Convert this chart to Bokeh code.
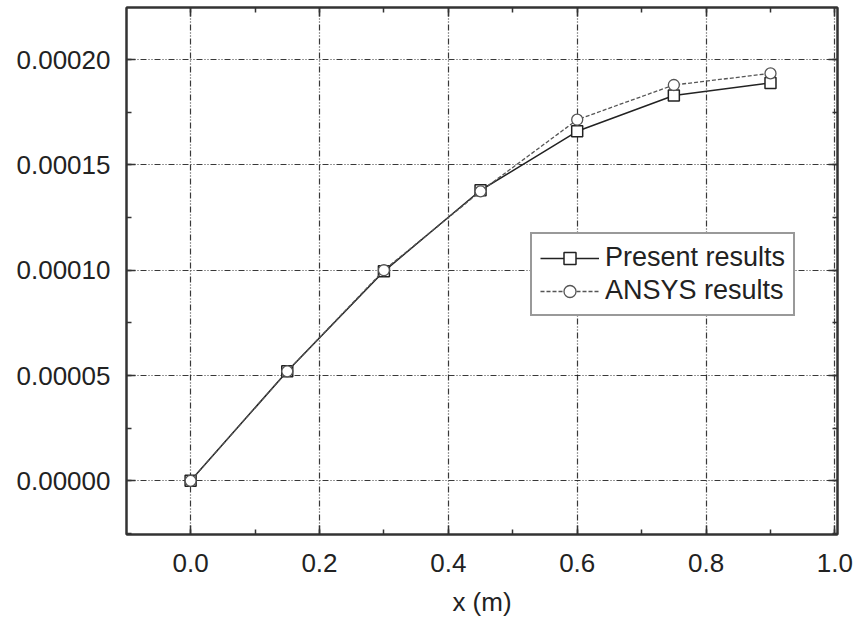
from bokeh.plotting import figure
from bokeh.models import (SingleIntervalTicker, NumeralTickFormatter, LinearAxis,
                          Legend, LegendItem, Range1d, CustomLabelingPolicy)
from bokeh.embed import file_html
from bokeh.resources import INLINE

x_vals = [0.0, 0.15, 0.30, 0.45, 0.60, 0.75, 0.90]
present = [0.0, 0.0000520, 0.0000995, 0.0001380, 0.0001660, 0.0001830, 0.0001890]
ansys = [0.0, 0.0000520, 0.0001000, 0.0001375, 0.0001715, 0.0001880, 0.0001935]

FONT = "Liberation Sans"
TXT = "#222222"

p = figure(width=858, height=621, output_backend="svg", toolbar_location=None,
           x_range=Range1d(-0.0995, 1.004), y_range=Range1d(-0.0000255, 0.0002248),
           min_border_left=126, min_border_right=21, min_border_top=7,
           min_border_bottom=87, background_fill_color="white",
           border_fill_color="white")

p.outline_line_color = "#333333"
p.outline_line_width = 2
p.outline_line_alpha = 1

xt = SingleIntervalTicker(interval=0.2, num_minor_ticks=2)
yt = SingleIntervalTicker(interval=0.00005, num_minor_ticks=2)

p.xaxis.ticker = xt
p.yaxis.ticker = yt
p.xaxis.formatter = NumeralTickFormatter(format="0.0")
p.yaxis.formatter = NumeralTickFormatter(format="0.00000")
p.xaxis.axis_label = "x (m)"

for ax in (p.xaxis[0], p.yaxis[0]):
    ax.major_tick_in = 9
    ax.major_tick_out = 0
    ax.minor_tick_in = 5
    ax.minor_tick_out = 0
    ax.major_tick_line_color = "#333333"
    ax.minor_tick_line_color = "#333333"
    ax.major_tick_line_width = 1.5
    ax.minor_tick_line_width = 1.5
    ax.axis_line_color = "#333333"
    ax.axis_line_width = 2
    ax.major_label_text_font = FONT
    ax.major_label_text_font_size = "26px"
    ax.major_label_text_color = TXT
    ax.axis_label_text_font = FONT
    ax.axis_label_text_font_size = "26px"
    ax.axis_label_text_font_style = "normal"
    ax.axis_label_text_color = TXT

p.xaxis.major_label_standoff = 19
p.yaxis.major_label_standoff = 16
p.xaxis.axis_label_standoff = 12

hide_all = CustomLabelingPolicy(
    code="const all = [...indices]; for (const i of all) indices.unset(i); return indices")

for loc in ("right", "above"):
    ax = LinearAxis(ticker=yt if loc == "right" else xt)
    ax.major_tick_in = 9
    ax.major_tick_out = 0
    ax.minor_tick_in = 5
    ax.minor_tick_out = 0
    ax.major_tick_line_color = "#333333"
    ax.minor_tick_line_color = "#333333"
    ax.major_tick_line_width = 1.5
    ax.minor_tick_line_width = 1.5
    ax.major_label_text_font_size = "0px"
    ax.major_label_standoff = 0
    ax.major_label_policy = hide_all
    ax.axis_line_color = "#333333"
    ax.axis_line_width = 2
    p.add_layout(ax, loc)

for g in (p.xgrid[0], p.ygrid[0]):
    g.grid_line_color = "#222222"
    g.grid_line_width = 1.2
    g.grid_line_dash = "6 2 1 2 1 2"
    g.grid_line_alpha = 0.9

r1 = p.line(x_vals, present, line_color="#222222", line_width=1.5)
s1 = p.scatter(x_vals, present, marker="square", size=11, fill_color="white",
               line_color="#222222", line_width=1.5)
r2 = p.line(x_vals, ansys, line_color="#555555", line_width=1.3, line_dash="4 2")
s2 = p.scatter(x_vals, ansys, marker="circle", size=11, fill_color="white",
               line_color="#555555", line_width=1.3)

legend = Legend(items=[LegendItem(label="Present results", renderers=[r1, s1]),
                       LegendItem(label="ANSYS results", renderers=[r2, s2])],
                location=(404, 218))
legend.glyph_width = 59
legend.glyph_height = 30
legend.label_height = 30
legend.label_text_font = FONT
legend.label_text_font_size = "27px"
legend.label_text_color = TXT
legend.border_line_color = "#333333"
legend.border_line_width = 2
legend.padding = 8
legend.spacing = 2
legend.margin = 0
legend.label_standoff = 6
legend.background_fill_color = "white"
legend.background_fill_alpha = 1
p.add_layout(legend, "center")

open("out.html", "w").write(file_html(p, INLINE))
